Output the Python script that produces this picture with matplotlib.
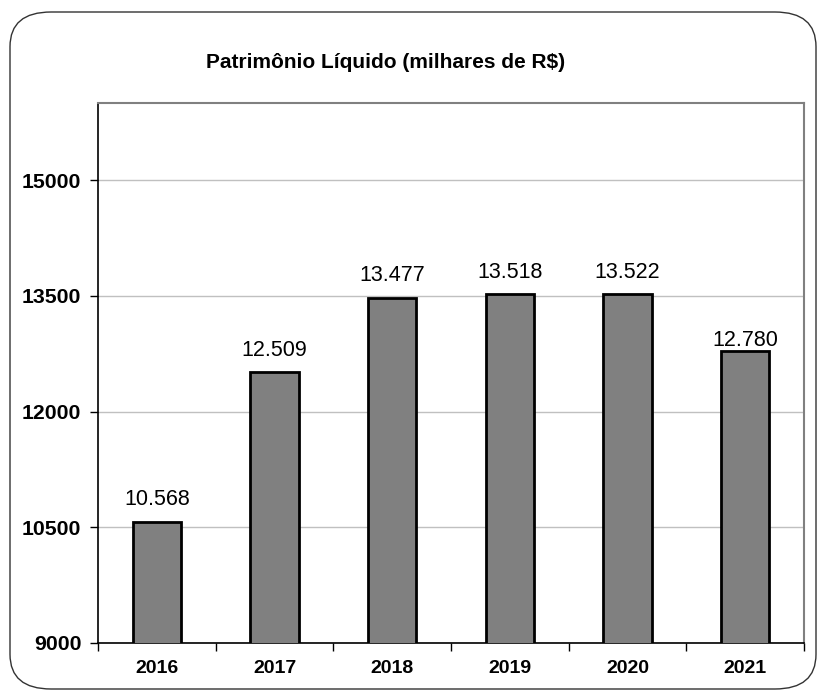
import matplotlib
matplotlib.use("Agg")
import matplotlib.pyplot as plt
import matplotlib.patches as patches

plt.rcParams['font.family'] = ['Liberation Sans', 'DejaVu Sans']

# dados do gráfico
anos = ['2016', '2017', '2018', '2019', '2020', '2021']
valores = [10568, 12509, 13477, 13518, 13522, 12780]
rotulos = ['10.568', '12.509', '13.477', '13.518', '13.522', '12.780']
y_ticks = [9000, 10500, 12000, 13500, 15000]
titulo = 'Patrimônio Líquido (milhares de R$)'

W, H = 822, 693
fig = plt.figure(figsize=(W / 100, H / 100), dpi=100)

# moldura arredondada externa
frame = patches.FancyBboxPatch(
    (10 / W, 4 / H), (W - 16) / W, (H - 16) / H,
    boxstyle="round,pad=0,rounding_size=0.05",
    transform=fig.transFigure, facecolor='none',
    edgecolor='#333333', linewidth=1.0, zorder=0)
fig.patches.append(frame)

ax = fig.add_axes([98 / W, (H - 643) / H, (804 - 98) / W, (643 - 103) / H])
ax.set_facecolor('none')

x = list(range(len(anos)))
ax.bar(x, valores, width=0.41, bottom=0, color='#808080',
       edgecolor='black', linewidth=2.0, zorder=3)

# o último rótulo fica mais colado na barra (como no Excel)
for i, (xi, v, r) in enumerate(zip(x, valores, rotulos)):
    off = 10 if i == len(anos) - 1 else 150
    ax.text(xi, v + off, r, ha='center', va='bottom', fontsize=15.5, color='black')

ax.set_xlim(-0.5, len(anos) - 0.5)
ax.set_ylim(9000, 16000)
ax.set_yticks(y_ticks)
ax.set_yticklabels([str(t) for t in y_ticks], fontsize=15.3, fontweight='bold')
ax.yaxis.grid(True, color='#c0c0c0', linewidth=1.0, zorder=0)
ax.set_axisbelow(True)

# rótulos do eixo x no centro, marcas nas divisas
ax.set_xticks(x)
ax.set_xticklabels(anos, fontsize=14, fontweight='bold')
ax.tick_params(axis='x', which='major', length=0, pad=12)
ax.set_xticks([i - 0.5 for i in range(len(anos) + 1)], minor=True)
ax.tick_params(axis='x', which='minor', length=6, width=1, direction='out')
ax.tick_params(axis='y', length=6, width=1, direction='out', pad=6)

for s in ['left', 'bottom']:
    ax.spines[s].set_color('black')
    ax.spines[s].set_linewidth(1.2)
for s in ['top', 'right']:
    ax.spines[s].set_color('#808080')
    ax.spines[s].set_linewidth(1.5)

fig.text(386 / W, 1 - 62 / H, titulo, ha='center', va='center',
         fontsize=15, fontweight='bold')

fig.savefig('out.png', dpi=100, facecolor='white')
